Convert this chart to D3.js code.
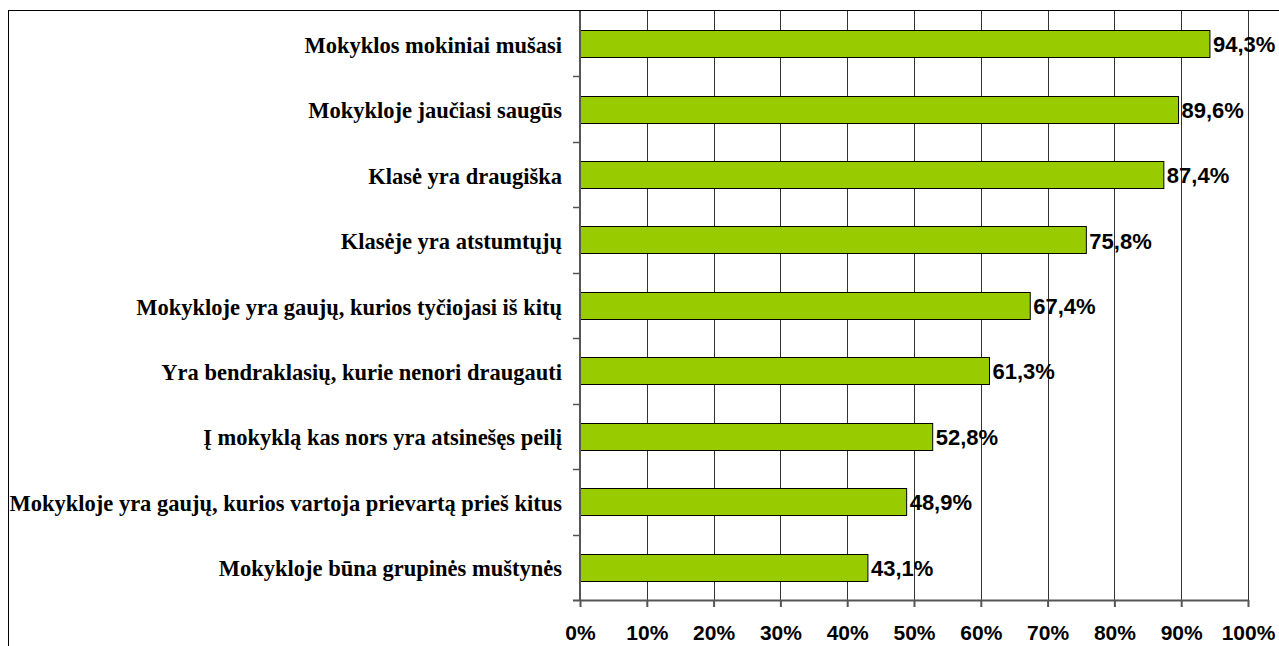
<!DOCTYPE html>
<html>
<head>
<meta charset="utf-8">
<script src="https://cdn.jsdelivr.net/npm/d3@7"></script>
<style>
  body { margin: 0; background: #fff; }
  svg { display: block; }
</style>
</head>
<body>
<div id="chart"></div>
<script>
// ================================
// Data
// ================================
const categories = [
  'Mokyklos mokiniai mušasi',
  'Mokykloje jaučiasi saugūs',
  'Klasė yra draugiška',
  'Klasėje yra atstumtųjų',
  'Mokykloje yra gaujų, kurios tyčiojasi iš kitų',
  'Yra bendraklasių, kurie nenori draugauti',
  'Į mokyklą kas nors yra atsinešęs peilį',
  'Mokykloje yra gaujų, kurios vartoja prievartą prieš kitus',
  'Mokykloje būna grupinės muštynės'
];
const values = [94.3, 89.6, 87.4, 75.8, 67.4, 61.3, 52.8, 48.9, 43.1];
const xTicks = [0, 10, 20, 30, 40, 50, 60, 70, 80, 90, 100];

// ================================
// Layout
// ================================
const W = 1279, H = 646;
const plot = { left: 580, right: 1248, top: 11, bottom: 600 };
const sansFont = '"Liberation Sans", Arial, sans-serif';
const serifFont = '"Liberation Serif", "Times New Roman", serif';

const svg = d3.select('#chart')
  .append('svg')
  .attr('width', W)
  .attr('height', H);

// Outer chart border (runs off the right and bottom edges)
svg.append('rect')
  .attr('x', 8.5)
  .attr('y', 10.5)
  .attr('width', W + 10)
  .attr('height', H + 10)
  .attr('fill', '#fff')
  .attr('stroke', '#000')
  .attr('stroke-width', 1);

const x = d3.scaleLinear()
  .domain([0, 100])
  .range([plot.left, plot.right]);

const y = d3.scaleBand()
  .domain(categories)
  .range([plot.top, plot.bottom])
  .paddingInner(0.585)
  .paddingOuter(0.2925);

// Vertical gridlines
svg.append('g')
  .selectAll('line')
  .data(xTicks.slice(1))
  .join('line')
  .attr('x1', d => Math.round(x(d)) + 0.5)
  .attr('x2', d => Math.round(x(d)) + 0.5)
  .attr('y1', plot.top)
  .attr('y2', plot.bottom)
  .attr('stroke', '#333')
  .attr('stroke-width', 1);

// Bars
svg.append('g')
  .selectAll('rect')
  .data(values)
  .join('rect')
  .attr('x', x(0))
  .attr('y', (d, i) => Math.round(y(categories[i])) + 0.5)
  .attr('width', d => x(d) - x(0))
  .attr('height', Math.round(y.bandwidth()))
  .attr('fill', '#99cc00')
  .attr('stroke', '#000')
  .attr('stroke-width', 1);

// Value labels
svg.append('g')
  .selectAll('text')
  .data(values)
  .join('text')
  .attr('x', d => x(d) + 3)
  .attr('y', (d, i) => y(categories[i]) + y.bandwidth() / 2 + 8.5)
  .attr('font-family', sansFont)
  .attr('font-weight', 'bold')
  .attr('font-size', '22px')
  .attr('fill', '#000')
  .text(d => d.toFixed(1).replace('.', ',') + '%');

// Bottom axis
const xAxis = svg.append('g')
  .attr('transform', `translate(0,${plot.bottom})`)
  .call(d3.axisBottom(x).tickValues(xTicks).tickSize(7).tickFormat(d => d + '%'));
xAxis.select('.domain')
  .attr('d', `M${plot.left - 7},0.5H${plot.right}`)
  .attr('stroke', '#555')
  .attr('stroke-width', 2);
xAxis.selectAll('.tick line')
  .attr('stroke', '#555')
  .attr('stroke-width', 2);
xAxis.selectAll('.tick text')
  .attr('y', 40)
  .attr('dy', null)
  .attr('font-family', sansFont)
  .attr('font-weight', 'bold')
  .attr('font-size', '21px')
  .attr('fill', '#000');

// Left axis: line plus ticks at band boundaries
const boundaries = categories.map(c => y(c) - y.step() * y.paddingInner() / 2).slice(1);
svg.append('line')
  .attr('x1', plot.left)
  .attr('x2', plot.left)
  .attr('y1', plot.top)
  .attr('y2', plot.bottom)
  .attr('stroke', '#555')
  .attr('stroke-width', 2);
svg.append('g')
  .selectAll('line')
  .data(boundaries)
  .join('line')
  .attr('x1', plot.left - 7)
  .attr('x2', plot.left)
  .attr('y1', d => Math.round(d) + 0.5)
  .attr('y2', d => Math.round(d) + 0.5)
  .attr('stroke', '#555')
  .attr('stroke-width', 1.5);

// Category labels
svg.append('g')
  .selectAll('text')
  .data(categories)
  .join('text')
  .attr('x', plot.left - 18)
  .attr('y', d => y(d) + y.bandwidth() / 2 + 9)
  .attr('text-anchor', 'end')
  .attr('font-family', serifFont)
  .attr('font-weight', 'bold')
  .attr('font-size', '22.5px')
  .attr('fill', '#000')
  .text(d => d);

// Top plot edge
svg.append('line')
  .attr('x1', 8)
  .attr('x2', W)
  .attr('y1', 10.5)
  .attr('y2', 10.5)
  .attr('stroke', '#000');
</script>
</body>
</html>
